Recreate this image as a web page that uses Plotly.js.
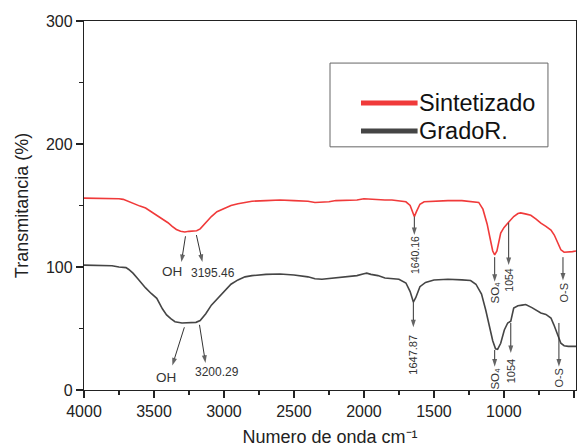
<!DOCTYPE html>
<html>
<head>
<meta charset="utf-8">
<script src="https://cdn.plot.ly/plotly-3.0.1.min.js"></script>
<style>html,body{margin:0;padding:0;background:#fff;}#chart{width:586px;height:447px;}</style>
</head>
<body>
<div id="chart"></div>
<script>
// ---- Data ----
var seriesNames = ["Sintetizado", "GradoR."];

var waveSint = [4000,3900,3800,3750,3720,3680,3640,3600,3560,3520,3480,3440,3400,3370,3340,3310,3280,3250,3220,3195,3170,3130,3090,3050,3000,2950,2900,2850,2800,2700,2600,2500,2400,2350,2300,2250,2200,2100,2050,2000,1950,1900,1850,1800,1750,1700,1670,1650,1640,1625,1600,1570,1500,1400,1300,1250,1200,1180,1150,1120,1100,1080,1066,1050,1023,1000,973,950,930,900,880,840,808,770,736,700,664,640,614,593,570,542,510,485];
var valSint  = [156,156,156,155.5,155,153,151,149.5,148,145,142,139.5,136,133,130.5,129,128.5,129,129,129.5,131,136,141,145,147.5,150,151.5,152.5,153.5,154,154.5,154,153.5,152.5,152.5,153,154,154.5,154.5,155.5,155,155,154.5,154.5,154,153,150,143,141,145,151,153,153.5,154,154,153.5,153,152.5,147,135,124,113,109.8,113,127.6,132,135.6,139,141,143.5,144,143,142,139,135.6,133,130,126,119.5,114,112,112,112.5,113];

var waveGrado = [4000,3900,3850,3800,3750,3700,3680,3650,3620,3600,3560,3520,3480,3440,3410,3380,3350,3300,3250,3200,3170,3130,3090,3050,3000,2950,2900,2850,2800,2700,2600,2500,2400,2350,2300,2250,2200,2150,2100,2050,2000,1980,1950,1900,1850,1800,1750,1700,1670,1647,1630,1600,1560,1500,1400,1300,1238,1200,1160,1130,1100,1080,1060,1045,1023,997,973,951,930,900,870,844,800,760,736,700,664,643,618,593,570,540,500,485];
var valGrado  = [101.5,101.5,101,101,100,99.5,98,95,91,88,83,78.5,74.5,66,61,58,55.5,54.5,54.5,55,56.5,62,69,74,80,86,89.5,92,93,94,94.3,93.5,92,90.5,90,90.5,91.5,92,92.5,93,94.5,95,94,93,91,90.5,90,87,80,71.5,75,84,87.5,89.5,90,89.5,89,86,78,65,51,40,33.5,33,38,48.8,54.5,56,66.6,68.5,69,69.5,67,64,62.6,61.5,58.5,53,46,38,36,35.5,35.5,35.5];

// Peak label texts
var peakTexts = ["OH","3195.46","1640.16","SO\u2084","1054","O-S","OH","3200.29","1647.87","SO\u2084","1054","O-S"];

var colors = ["#f03a3a", "#454545"];

var traces = [
  {x: waveSint, y: valSint, name: seriesNames[0], type: "scatter", mode: "lines",
   line: {color: colors[0], width: 1.6}, showlegend: false, hoverinfo: "skip"},
  {x: waveGrado, y: valGrado, name: seriesNames[1], type: "scatter", mode: "lines",
   line: {color: colors[1], width: 1.6}, showlegend: false, hoverinfo: "skip"}
];

// arrow geometry (layout only): tail x,y ; head x,y
var arrows = [
  [3275,125, 3304,104],
  [3197,126, 3154,104],
  [1640,141, 1640,126],
  [1066,108, 1066,88],
  [966,136, 966,101.6],
  [578,108, 578,89],
  [3283,51, 3369,20],
  [3175,53, 3132,22],
  [1647,71.5, 1647,51],
  [1066,32.5, 1066,19],
  [951,54.5, 951,30],
  [607,54.5, 607,19]
];
arrows.forEach(function(a){
  traces.push({x:[a[0], a[2]], y:[a[1], a[3]], type:"scatter", mode:"lines+markers",
    line:{color:"#333", width:1},
    marker:{symbol:["circle","arrow"], size:[0,8], color:"#222", angleref:"previous", line:{width:0}},
    showlegend:false, hoverinfo:"skip"});
});

var textPos = [
  [3369,96,0,13.5],[3075,95,0,12],[1640,110,-90,10.5],[1066,79,-90,11.5],[966,89.4,-90,10.5],[573,79,-90,11],
  [3412,10,0,13.5],[3053,15,0,12],[1647,29,-90,11],[1066,9,-90,11.5],[951,15,-90,11],[607,10,-90,11]
];

var annotations = [];
textPos.forEach(function(t,i){
  annotations.push({x:t[0], y:t[1], xref:"x", yref:"y", text:peakTexts[i], showarrow:false,
    textangle:t[2], font:{family:"Liberation Sans, Arial, sans-serif", size:t[3], color:"#333"}});
});
// manual legend text
annotations.push({x:0.676, y:0.778, xref:"paper", yref:"paper", xanchor:"left", yanchor:"middle",
  text:seriesNames[0], showarrow:false, font:{family:"Liberation Sans, Arial, sans-serif", size:23.5, color:"#111"}});
annotations.push({x:0.676, y:0.702, xref:"paper", yref:"paper", xanchor:"left", yanchor:"middle",
  text:seriesNames[1], showarrow:false, font:{family:"Liberation Sans, Arial, sans-serif", size:23.5, color:"#111"}});

var shapes = [
  {type:"rect", xref:"paper", yref:"paper", x0:0.5, x1:0.943, y0:0.659, y1:0.886,
   line:{color:"#666", width:1}, fillcolor:"rgba(0,0,0,0)"},
  {type:"line", xref:"paper", yref:"paper", x0:0.563, x1:0.678, y0:0.778, y1:0.778,
   line:{color:colors[0], width:5}},
  {type:"line", xref:"paper", yref:"paper", x0:0.563, x1:0.678, y0:0.702, y1:0.702,
   line:{color:colors[1], width:5}}
];

var axisFont = {family:"Liberation Sans, Arial, sans-serif", size:16, color:"#222"};

var layout = {
  width:586, height:447,
  margin:{l:84, r:10, t:21, b:57},
  paper_bgcolor:"#fff", plot_bgcolor:"#fff",
  showlegend:false,
  xaxis:{
    range:[4000,485], tickvals:[4000,3500,3000,2500,2000,1500,1000,500],
    ticks:"outside", ticklen:7, tickwidth:1.2, tickcolor:"#222",
    minor:{dtick:250, ticks:"outside", ticklen:4, tickcolor:"#222", showgrid:false},
    showline:true, linecolor:"#222", linewidth:1.2, mirror:true,
    showgrid:false, zeroline:false, tickfont:axisFont,
    title:{text:"Numero de onda cm\u207B\u00B9", font:{family:"Liberation Sans, Arial, sans-serif", size:18, color:"#222"}, standoff:14}
  },
  yaxis:{
    range:[0,300], dtick:100,
    ticks:"outside", ticklen:7, tickwidth:1.2, tickcolor:"#222",
    minor:{dtick:50, ticks:"outside", ticklen:4, tickcolor:"#222", showgrid:false},
    showline:true, linecolor:"#222", linewidth:1.2, mirror:true,
    showgrid:false, zeroline:false, tickfont:axisFont,
    title:{text:"Transmitancia (%)", font:{family:"Liberation Sans, Arial, sans-serif", size:18, color:"#222"}, standoff:12}
  },
  annotations:annotations,
  shapes:shapes
};

Plotly.newPlot("chart", traces, layout, {displayModeBar:false, staticPlot:true});
</script>
</body>
</html>
